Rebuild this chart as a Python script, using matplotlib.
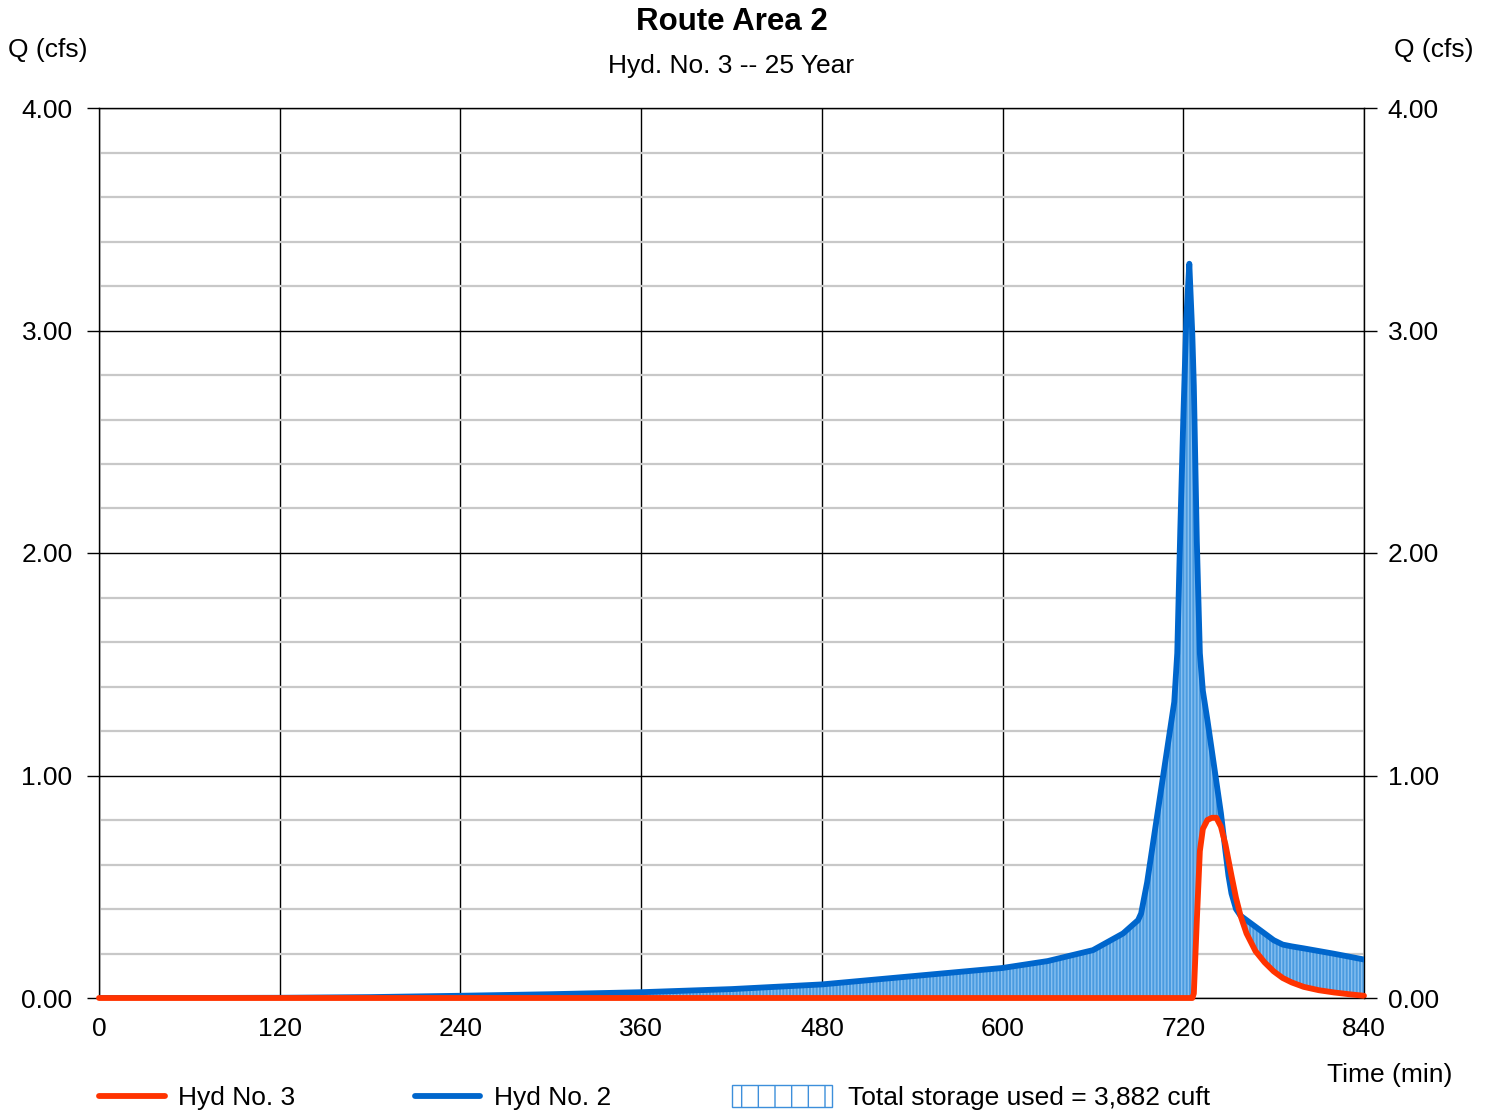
import matplotlib
matplotlib.use("Agg")
import matplotlib.pyplot as plt
from matplotlib.lines import Line2D
from matplotlib.patches import Rectangle
from matplotlib.ticker import MultipleLocator
import numpy as np

plt.rcParams['font.family'] = ['Liberation Sans', 'DejaVu Sans']
plt.rcParams['hatch.linewidth'] = 1.0

# hydrograph ordinates (min, cfs)
time_min = [0, 60, 120, 180, 240, 300, 360, 420, 480, 540,
            600, 630, 660, 680, 690, 692, 696, 700, 706, 712,
            714, 716, 718, 720, 722, 724, 726, 727, 729, 731,
            733, 736, 739, 742, 745, 748, 750, 752, 755, 758,
            762, 768, 774, 780, 786, 792, 800, 810, 820, 830,
            840]
hyd2_inflow = [0, 0, 0.001, 0.004, 0.010, 0.017, 0.026, 0.040, 0.061, 0.098,
               0.135, 0.166, 0.215, 0.29, 0.35, 0.38, 0.52, 0.70, 0.97, 1.24,
               1.33, 1.55, 2.10, 2.60, 3.05, 3.30, 2.98, 2.75, 2.05, 1.55,
               1.38, 1.25, 1.11, 0.97, 0.83, 0.66, 0.55, 0.47, 0.40, 0.37,
               0.35, 0.32, 0.29, 0.26, 0.24, 0.232, 0.223, 0.211, 0.199, 0.186,
               0.173]
hyd3_outflow = [0] * 27 + [0.02, 0.35, 0.66,
                           0.76, 0.80, 0.81, 0.81, 0.77, 0.69, 0.62, 0.55, 0.45, 0.37,
                           0.29, 0.21, 0.16, 0.12, 0.09, 0.07, 0.05, 0.035, 0.025, 0.017,
                           0.01]

x_ticks = [0, 120, 240, 360, 480, 600, 720, 840]
y_ticks = [0, 1, 2, 3, 4]
storage_cuft = "3,882"

RED = '#ff3300'
BLUE = '#0066cc'
FS = 19

fig = plt.figure(figsize=(14.91, 11.10), dpi=100)
ax = fig.add_axes([99 / 1491, 1 - 998 / 1110, 1265 / 1491, 890 / 1110])

t = np.array(time_min)
q_in = np.array(hyd2_inflow)
q_out = np.array(hyd3_outflow)

# storage = inflow above outflow
ax.fill_between(t, q_out, q_in, where=q_in >= q_out, interpolate=True,
                facecolor='#4a9be0', edgecolor='#86bff0', hatch='|||||',
                linewidth=0, zorder=2)
ax.plot(t, q_in, color=BLUE, lw=4.2, solid_capstyle='round', zorder=4)
ax.plot(t, q_out, color=RED, lw=4.2, solid_capstyle='round', zorder=5,
        clip_on=False)

ax.set_xlim(0, 840)
ax.set_ylim(0, 4)
ax.set_xticks(x_ticks)
ax.set_yticks(y_ticks)
ax.yaxis.set_minor_locator(MultipleLocator(0.2))
ax.set_yticklabels([f"{v:.2f}" for v in y_ticks])
ax.grid(which='minor', axis='y', color='#c8c8c8', lw=1.6, zorder=0)
ax.grid(which='major', axis='y', color='black', lw=1.0, zorder=1)
ax.grid(which='major', axis='x', color='black', lw=1.0, zorder=1)
ax.tick_params(axis='y', which='major', direction='out', length=9, width=1,
               labelsize=FS, pad=10, right=False)
ax.tick_params(axis='y', which='minor', length=0)
ax.tick_params(axis='x', length=0, labelsize=FS, pad=14)
for s in ax.spines.values():
    s.set_color('black')
    s.set_linewidth(1.0)

ax2 = ax.twinx()
ax2.set_ylim(0, 4)
ax2.set_yticks(y_ticks)
ax2.set_yticklabels([f"{v:.2f}" for v in y_ticks])
ax2.tick_params(axis='y', direction='out', length=9, width=1, labelsize=FS, pad=8)
for s in ax2.spines.values():
    s.set_visible(False)

fig.text(732 / 1491, 1 - 22 / 1110, "Route Area 2", ha='center', va='center',
         fontsize=22.5, fontweight='bold')
fig.text(731 / 1491, 1 - 66 / 1110, "Hyd. No. 3 -- 25 Year", ha='center',
         va='center', fontsize=FS)
fig.text(8 / 1491, 1 - 50 / 1110, "Q (cfs)", ha='left', va='center', fontsize=FS)
fig.text(1474 / 1491, 1 - 50 / 1110, "Q (cfs)", ha='right', va='center', fontsize=FS)
fig.text(1452 / 1491, 1 - 1075 / 1110, "Time (min)", ha='right', va='center',
         fontsize=FS)

# legend row along the bottom
ly = 1 - 1096 / 1110
ty = 1 - 1098 / 1110
fig.add_artist(Line2D([99 / 1491, 165 / 1491], [ly, ly], color=RED, lw=4.2,
                      solid_capstyle='round'))
fig.text(178 / 1491, ty, "Hyd No. 3", ha='left', va='center', fontsize=FS)
fig.add_artist(Line2D([415 / 1491, 480 / 1491], [ly, ly], color=BLUE, lw=4.2,
                      solid_capstyle='round'))
fig.text(494 / 1491, ty, "Hyd No. 2", ha='left', va='center', fontsize=FS)
fig.add_artist(Rectangle((732 / 1491, 1 - 1107 / 1110), 100 / 1491, 22 / 1110,
                         transform=fig.transFigure, facecolor='white',
                         edgecolor='#3d8fdb', hatch='|', lw=1.0))
fig.text(848 / 1491, ty, f"Total storage used = {storage_cuft} cuft", ha='left',
         va='center', fontsize=FS)

fig.savefig("out.png", dpi=100)
